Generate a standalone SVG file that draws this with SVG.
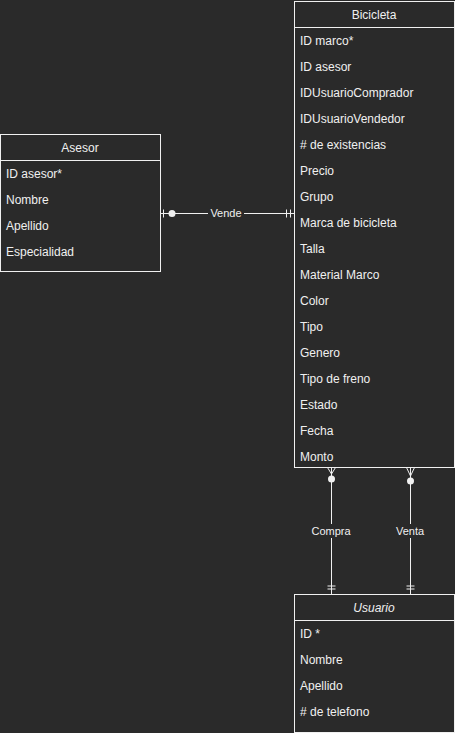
<svg xmlns="http://www.w3.org/2000/svg" width="455" height="733" viewBox="0 0 455 733">
<style>
.box{fill:#2a2a2a;stroke:#f0f0f0;stroke-width:1}
.t{font-family:"Liberation Sans",Arial,sans-serif;font-size:12px;fill:#f0f0f0}
.h{text-anchor:middle}
.c{stroke:#f0f0f0;stroke-width:1;fill:none}
.lbl{font-family:"Liberation Sans",Arial,sans-serif;font-size:11px;fill:#f0f0f0;text-anchor:middle}
</style>
<rect width="455" height="733" fill="#2a2a2a"/>
<g id="connectors">
  <line class="c" x1="160.5" y1="213.5" x2="294" y2="213.5"/>
  <line class="c" x1="163.5" y1="209.5" x2="163.5" y2="217.5"/>
  <circle cx="172" cy="213.5" r="3.5" fill="#f0f0f0"/>
  <line class="c" x1="286.5" y1="209.5" x2="286.5" y2="217.5"/>
  <line class="c" x1="290.5" y1="209.5" x2="290.5" y2="217.5"/>
  <rect x="208" y="206" width="36" height="14" fill="#2a2a2a"/>
  <text class="lbl" x="226" y="217">Vende</text>

  <line class="c" x1="331.5" y1="467" x2="331.5" y2="594"/>
  <polyline class="c" points="327.5,467.5 331.5,474 335.5,467.5"/>
  <circle cx="331.5" cy="479" r="3.5" fill="#f0f0f0"/>
  <line class="c" x1="327.5" y1="586" x2="335.5" y2="586"/>
  <line class="c" x1="327.5" y1="589" x2="335.5" y2="589"/>
  <rect x="310" y="524" width="43" height="14" fill="#2a2a2a"/>
  <text class="lbl" x="331" y="535">Compra</text>

  <line class="c" x1="410.5" y1="467" x2="410.5" y2="594"/>
  <polyline class="c" points="406.5,467.5 410.5,476 414.5,467.5"/>
  <circle cx="410.5" cy="481" r="3.5" fill="#f0f0f0"/>
  <line class="c" x1="406.5" y1="586" x2="414.5" y2="586"/>
  <line class="c" x1="406.5" y1="589" x2="414.5" y2="589"/>
  <rect x="394" y="524" width="33" height="14" fill="#2a2a2a"/>
  <text class="lbl" x="410" y="535">Venta</text>
</g>
<g id="asesor">
  <rect class="box" x="0.5" y="134.5" width="160" height="137"/>
  <line class="c" x1="0.5" y1="160.5" x2="160.5" y2="160.5"/>
  <text class="t h" x="80" y="151.5">Asesor</text>
  <text class="t" x="6" y="177.5">ID asesor*</text>
  <text class="t" x="6" y="203.5">Nombre</text>
  <text class="t" x="6" y="229.5">Apellido</text>
  <text class="t" x="6" y="255.5">Especialidad</text>
</g>
<g id="bicicleta">
  <rect class="box" x="294.5" y="1.5" width="160" height="466"/>
  <line class="c" x1="294.5" y1="27.5" x2="454.5" y2="27.5"/>
  <text class="t h" x="374" y="18.5">Bicicleta</text>
  <text class="t" x="300" y="44.5">ID marco*</text>
  <text class="t" x="300" y="70.5">ID asesor</text>
  <text class="t" x="300" y="96.5">IDUsuarioComprador</text>
  <text class="t" x="300" y="122.5">IDUsuarioVendedor</text>
  <text class="t" x="300" y="148.5"># de existencias</text>
  <text class="t" x="300" y="174.5">Precio</text>
  <text class="t" x="300" y="200.5">Grupo</text>
  <text class="t" x="300" y="226.5">Marca de bicicleta</text>
  <text class="t" x="300" y="252.5">Talla</text>
  <text class="t" x="300" y="278.5">Material Marco</text>
  <text class="t" x="300" y="304.5">Color</text>
  <text class="t" x="300" y="330.5">Tipo</text>
  <text class="t" x="300" y="356.5">Genero</text>
  <text class="t" x="300" y="382.5">Tipo de freno</text>
  <text class="t" x="300" y="408.5">Estado</text>
  <text class="t" x="300" y="434.5">Fecha</text>
  <text class="t" x="300" y="460.5">Monto</text>
</g>
<g id="usuario">
  <rect class="box" x="294.5" y="594.5" width="160" height="138"/>
  <line class="c" x1="294.5" y1="620.5" x2="454.5" y2="620.5"/>
  <text class="t h" x="374" y="611.5" font-style="italic">Usuario</text>
  <text class="t" x="300" y="637.5">ID *</text>
  <text class="t" x="300" y="663.5">Nombre</text>
  <text class="t" x="300" y="689.5">Apellido</text>
  <text class="t" x="300" y="715.5"># de telefono</text>
</g>
</svg>
